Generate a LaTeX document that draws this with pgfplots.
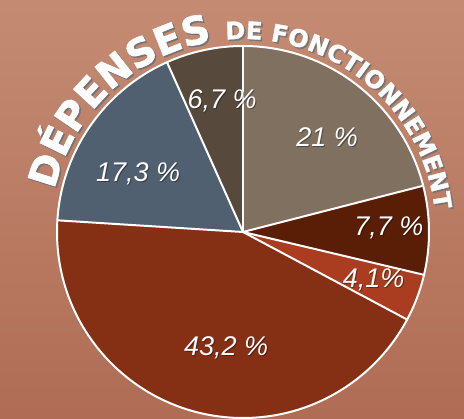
\documentclass[border=0pt]{standalone}
\usepackage{fontspec}
\setmainfont{Liberation Sans}
\newfontfamily\titlefont{DejaVu Sans}[FakeBold=1.5]
\usepackage{pgfplots}
\usepackage{pgfplotstable}
\pgfplotsset{compat=1.18}
\usetikzlibrary{decorations.text}

\definecolor{bgtop}{RGB}{196,139,115}
\definecolor{bgbot}{RGB}{176,108,84}
\definecolor{slice0}{RGB}{128,112,96}
\definecolor{slice1}{RGB}{90,30,6}
\definecolor{slice2}{RGB}{170,60,32}
\definecolor{slice3}{RGB}{133,47,20}
\definecolor{slice4}{RGB}{80,96,112}
\definecolor{slice5}{RGB}{87,74,60}

\pgfplotstableread{
value lr la gap
21   127 48.5 1
7.7  146 1.6  1
4.1  139 -20  0
43.2 117 -98.3 1
17.3 120 151  1
6.7  133 99   1
}\piedata

\begin{document}
\begin{tikzpicture}
\begin{axis}[
  x=1pt, y=1pt, scale only axis,
  xmin=-243, xmax=221, ymin=-187, ymax=232,
  hide axis, clip=true,
]
\fill[top color=bgtop, bottom color=bgbot] (axis cs:-243,-187) rectangle (axis cs:221,232);
% wedges
\gdef\startang{90}
\pgfplotsforeachungrouped \i in {0,...,5}{%
  \pgfplotstablegetelem{\i}{value}\of\piedata \let\v\pgfplotsretval
  \pgfmathsetmacro\endang{\startang-3.6*\v}%
  \pgfmathsetmacro\sx{186*cos(\startang)}%
  \pgfmathsetmacro\sy{186*sin(\startang)}%
  \edef\temp{\noexpand\fill[fill=slice\i] (axis cs:0,0) -- (axis cs:\sx,\sy) arc[start angle=\startang, end angle=\endang, radius=186pt] -- cycle;}%
  \temp
  \xdef\startang{\endang}%
}
% borders
\gdef\startang{90}
\pgfplotsforeachungrouped \i in {0,...,5}{%
  \pgfplotstablegetelem{\i}{value}\of\piedata \let\v\pgfplotsretval
  \pgfmathsetmacro\sx{186*cos(\startang)}%
  \pgfmathsetmacro\sy{186*sin(\startang)}%
  \edef\temp{\noexpand\draw[white, line width=2pt] (axis cs:0,0) -- (axis cs:\sx,\sy);}%
  \temp
  \pgfmathsetmacro\endang{\startang-3.6*\v}%
  \xdef\startang{\endang}%
}
\draw[white, line width=2pt] (axis cs:0,0) circle[radius=186pt];
% labels
\pgfplotsforeachungrouped \i in {0,...,5}{%
  \pgfplotstablegetelem{\i}{value}\of\piedata \let\v\pgfplotsretval
  \pgfplotstablegetelem{\i}{lr}\of\piedata \let\lr\pgfplotsretval
  \pgfplotstablegetelem{\i}{la}\of\piedata \let\la\pgfplotsretval
  \pgfplotstablegetelem{\i}{gap}\of\piedata \let\gap\pgfplotsretval
  \pgfmathsetmacro\lx{\lr*cos(\la)}%
  \pgfmathsetmacro\ly{\lr*sin(\la)}%
  \pgfmathsetmacro\lxs{\lx+1}%
  \pgfmathsetmacro\lys{\ly-1}%
  \edef\temp{\noexpand\node[text=black, text opacity=0.35, font=\noexpand\itshape\noexpand\fontsize{27}{30}\noexpand\selectfont] at (axis cs:\lxs,\lys) {\noexpand\pgfmathprintnumber[use comma, assume math mode=true]{\v}\ifnum\gap=1\noexpand~\fi\noexpand\%};
    \noexpand\node[text=white, font=\noexpand\itshape\noexpand\fontsize{27}{30}\noexpand\selectfont] at (axis cs:\lx,\ly) {\noexpand\pgfmathprintnumber[use comma, assume math mode=true]{\v}\ifnum\gap=1\noexpand~\fi\noexpand\%};}%
  \temp
}
% title along arc
\path[decorate, decoration={text along path, text align=center, text color={black!55},
  text={|\titlefont\bfseries\fontsize{39}{42}\selectfont|DÉPENSES |\titlefont\bfseries\fontsize{24}{27}\selectfont|DE FONCTIONNEMENT}}]
  (axis cs:{193*cos(168)+1.5},{193*sin(168)-1.5}) arc[start angle=168, end angle=6, radius=193pt];
\path[decorate, decoration={text along path, text align=center, text color=white,
  text={|\titlefont\bfseries\fontsize{39}{42}\selectfont|DÉPENSES |\titlefont\bfseries\fontsize{24}{27}\selectfont|DE FONCTIONNEMENT}}]
  (axis cs:{193*cos(168)},{193*sin(168)}) arc[start angle=168, end angle=6, radius=193pt];
\end{axis}
\end{tikzpicture}
\end{document}
